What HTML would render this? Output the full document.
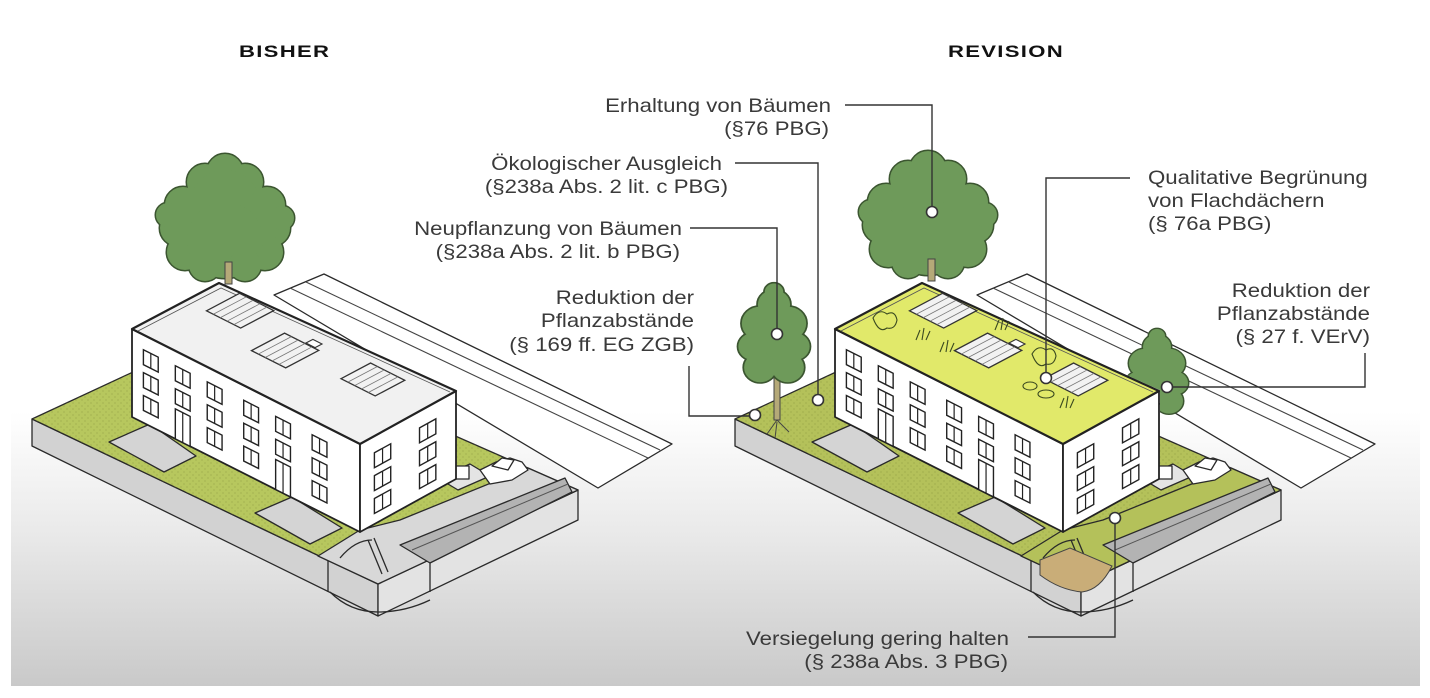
<!DOCTYPE html>
<html><head><meta charset="utf-8">
<style>
html,body{margin:0;padding:0;background:#fff;}
svg{display:block;}
text{font-family:"Liberation Sans",Arial,sans-serif;fill:#3a3a3a;}
.t{font-size:19px;}
.h{font-size:17px;font-weight:bold;fill:#111;letter-spacing:1px;}
.ln{fill:none;stroke:#333;stroke-width:1.4;}
.dot{fill:#fff;stroke:#333;stroke-width:1.6;}
.k{stroke:#2a2a2a;stroke-width:1.3;stroke-linejoin:round;}
</style></head>
<body>
<svg width="1430" height="698" viewBox="0 0 1430 698" xmlns="http://www.w3.org/2000/svg">
<defs>
<linearGradient id="bg" x1="0" y1="0" x2="0" y2="1">
<stop offset="0" stop-color="#fff"/>
<stop offset="0.6" stop-color="#fff"/>
<stop offset="0.78" stop-color="#e9e9e9"/>
<stop offset="1" stop-color="#c9c9c9"/>
</linearGradient>
<clipPath id="rtclip"><polygon points="1100,300 1230,300 1230,480 1160,480 1160,390 1100,363"/></clipPath>
<pattern id="stip" width="6" height="6" patternUnits="userSpaceOnUse">
<circle cx="1" cy="1" r="0.6" fill="#7d8a36" opacity="0.6"/><circle cx="4" cy="4" r="0.6" fill="#7d8a36" opacity="0.6"/>
</pattern>
<g id="win">
<rect x="0" y="0" width="1" height="1" fill="#fff" stroke="#222" stroke-width="1.4" vector-effect="non-scaling-stroke"/>
<line x1="0.5" y1="0" x2="0.5" y2="1" stroke="#222" stroke-width="1.2" vector-effect="non-scaling-stroke"/>
</g>
<g id="scene">
  <polygon points="274,295 324,274 672,444 598,488" fill="#fff" class="k"/>
  <line x1="290" y1="288" x2="648" y2="458" stroke="#444" stroke-width="1.1"/>
  <line x1="306" y1="282" x2="660" y2="450" stroke="#444" stroke-width="1.1"/>
  <polygon points="32,419 378,584 378,616 32,446" style="fill:#d2d2d2" class="k"/>
  <polygon points="378,584 578,490 578,520 378,616" style="fill:#e3e3e3" class="k"/>
  <line x1="328" y1="560" x2="328" y2="592" class="k"/>
  <line x1="430" y1="560" x2="430" y2="592" class="k"/>
  <path d="M330,592 Q350,612 378,612 Q405,612 430,600" fill="none" class="k"/>
  <polygon points="32,419 219,332 578,490 378,584" style="fill:var(--lawn)" class="k"/>
  <polygon points="32,419 219,332 578,490 378,584" fill="url(#stip)"/>
  <polygon points="318,556 378,584 578,490 528,468 400,520 360,530" style="fill:var(--paved)" class="k"/>
  <polygon points="109,442 150,424 196,456 164,472" fill="#d4d4d4" class="k"/>
  <polygon points="255,513 292,497 342,528 310,544" fill="#d4d4d4" class="k"/>
  <polygon points="400,545 565,478 572,492 430,563" fill="#b3b3b3" class="k"/>
  <line x1="412" y1="550" x2="568" y2="484" stroke="#555" stroke-width="1"/>
  <polygon points="438,478 470,464 490,476 458,490" fill="#e4e4e4" class="k"/>
  <rect x="455" y="466" width="14" height="13" fill="#fff" class="k"/>
  <path d="M480,470 L496,462 L510,458 L522,462 L528,470 L512,480 L490,484 Z" fill="#fff" class="k"/>
  <path d="M492,466 L502,458 L514,460 L508,470 Z" fill="#fff" class="k"/>
  <line x1="368" y1="540" x2="382" y2="574" class="k"/>
  <line x1="374" y1="538" x2="388" y2="572" class="k"/>
  <path d="M340,558 Q355,540 372,540" fill="none" class="k"/>
  <polygon points="132,329 360,444 360,532 132,417" fill="#fff" stroke="#222" stroke-width="1.8" stroke-linejoin="round"/>
  <polygon points="360,444 456,391 456,479 360,532" fill="#fff" stroke="#222" stroke-width="1.8" stroke-linejoin="round"/>
  <polygon points="132,329 219,283 456,391 360,444" style="fill:var(--roof)" stroke="#222" stroke-width="2.2" stroke-linejoin="round"/>
  <polyline points="138,331 221,288 450,392" fill="none" stroke="#555" stroke-width="0.8"/>
  <g transform="matrix(228,115,0,88,132,329)">
    <use href="#win" transform="translate(0.05,0.17) scale(0.065,0.17)"/>
    <use href="#win" transform="translate(0.19,0.17) scale(0.065,0.17)"/>
    <use href="#win" transform="translate(0.33,0.17) scale(0.065,0.17)"/>
    <use href="#win" transform="translate(0.49,0.17) scale(0.065,0.17)"/>
    <use href="#win" transform="translate(0.63,0.17) scale(0.065,0.17)"/>
    <use href="#win" transform="translate(0.79,0.17) scale(0.065,0.17)"/>
    <use href="#win" transform="translate(0.05,0.43) scale(0.065,0.17)"/>
    <use href="#win" transform="translate(0.19,0.43) scale(0.065,0.17)"/>
    <use href="#win" transform="translate(0.33,0.43) scale(0.065,0.17)"/>
    <use href="#win" transform="translate(0.49,0.43) scale(0.065,0.17)"/>
    <use href="#win" transform="translate(0.63,0.43) scale(0.065,0.17)"/>
    <use href="#win" transform="translate(0.79,0.43) scale(0.065,0.17)"/>
    <use href="#win" transform="translate(0.05,0.69) scale(0.065,0.17)"/>
    <use href="#win" transform="translate(0.19,0.66) scale(0.065,0.34)"/>
    <use href="#win" transform="translate(0.33,0.69) scale(0.065,0.17)"/>
    <use href="#win" transform="translate(0.49,0.69) scale(0.065,0.17)"/>
    <use href="#win" transform="translate(0.63,0.66) scale(0.065,0.34)"/>
    <use href="#win" transform="translate(0.79,0.69) scale(0.065,0.17)"/>
  </g>
  <g transform="matrix(96,-53,0,88,360,444)">
    <use href="#win" transform="translate(0.15,0.19) scale(0.17,0.17)"/>
    <use href="#win" transform="translate(0.62,0.19) scale(0.17,0.17)"/>
    <use href="#win" transform="translate(0.15,0.45) scale(0.17,0.17)"/>
    <use href="#win" transform="translate(0.62,0.45) scale(0.17,0.17)"/>
    <use href="#win" transform="translate(0.15,0.71) scale(0.17,0.17)"/>
    <use href="#win" transform="translate(0.62,0.71) scale(0.17,0.17)"/>
  </g>
  <g transform="matrix(228,115,87,-46,132,329)">
    <rect x="0.09" y="0.62" width="0.15" height="0.38" fill="#f2f2f2" stroke="#333" stroke-width="1.3" vector-effect="non-scaling-stroke"/>
    <rect x="0.36" y="0.43" width="0.15" height="0.38" fill="#f2f2f2" stroke="#333" stroke-width="1.3" vector-effect="non-scaling-stroke"/>
    <rect x="0.68" y="0.62" width="0.15" height="0.34" fill="#f2f2f2" stroke="#333" stroke-width="1.3" vector-effect="non-scaling-stroke"/>
    <rect x="0.45" y="0.82" width="0.04" height="0.08" fill="#fff" stroke="#333" stroke-width="1.1" vector-effect="non-scaling-stroke"/>
    <g stroke="#777" stroke-width="0.8">
      <line x1="0.12" y1="0.62" x2="0.12" y2="1" vector-effect="non-scaling-stroke"/><line x1="0.15" y1="0.62" x2="0.15" y2="1" vector-effect="non-scaling-stroke"/><line x1="0.18" y1="0.62" x2="0.18" y2="1" vector-effect="non-scaling-stroke"/><line x1="0.21" y1="0.62" x2="0.21" y2="1" vector-effect="non-scaling-stroke"/>
      <line x1="0.39" y1="0.43" x2="0.39" y2="0.81" vector-effect="non-scaling-stroke"/><line x1="0.42" y1="0.43" x2="0.42" y2="0.81" vector-effect="non-scaling-stroke"/><line x1="0.45" y1="0.43" x2="0.45" y2="0.81" vector-effect="non-scaling-stroke"/><line x1="0.48" y1="0.43" x2="0.48" y2="0.81" vector-effect="non-scaling-stroke"/>
      <line x1="0.71" y1="0.62" x2="0.71" y2="0.96" vector-effect="non-scaling-stroke"/><line x1="0.74" y1="0.62" x2="0.74" y2="0.96" vector-effect="non-scaling-stroke"/><line x1="0.77" y1="0.62" x2="0.77" y2="0.96" vector-effect="non-scaling-stroke"/><line x1="0.80" y1="0.62" x2="0.80" y2="0.96" vector-effect="non-scaling-stroke"/>
    </g>
  </g>
</g>
<g id="canopy">
  <circle cx="225" cy="172" r="18"/><circle cx="205" cy="182" r="18"/><circle cx="245" cy="182" r="18"/>
  <circle cx="225" cy="205" r="35"/><circle cx="183" cy="205" r="18"/><circle cx="267" cy="205" r="18"/>
  <circle cx="178" cy="228" r="18"/><circle cx="272" cy="228" r="18"/><circle cx="185" cy="252" r="18"/><circle cx="265" cy="252" r="18"/>
  <circle cx="225" cy="240" r="38"/><circle cx="205" cy="265" r="16"/><circle cx="245" cy="265" r="16"/>
  <circle cx="168" cy="215" r="12"/><circle cx="282" cy="218" r="12"/>
</g>
<g id="treeBig">
  <use href="#canopy" fill="#6e9a5a" stroke="#3b5530" stroke-width="3"/>
  <use href="#canopy" fill="#6e9a5a"/>
  <rect x="225" y="262" width="7" height="22" fill="#b5a978" stroke="#444" stroke-width="1"/>
</g>
<g id="smallc">
  <circle cx="0" cy="-30" r="14"/><circle cx="-12" cy="-12" r="16"/><circle cx="12" cy="-12" r="16"/>
  <circle cx="0" cy="5" r="22"/><circle cx="-18" cy="10" r="13"/><circle cx="18" cy="10" r="13"/>
  <circle cx="-12" cy="30" r="14"/><circle cx="12" cy="30" r="14"/><circle cx="0" cy="-42" r="8"/>
</g>
</defs>

<rect x="11" y="0" width="1409" height="686" fill="url(#bg)"/>

<text class="h" transform="matrix(1.3,0,0,1,239,57)">BISHER</text>
<text class="h" transform="matrix(1.3,0,0,1,948,57)">REVISION</text>

<use href="#treeBig"/>
<use href="#scene" style="--lawn:#b7c75e;--paved:#d8d8d8;--roof:#f1f1f1"/>

<use href="#treeBig" transform="translate(703,-3)"/>
<use href="#scene" transform="translate(703,0)" style="--lawn:#b4c15a;--paved:#b4c15a;--roof:#e1e96a"/>
<g clip-path="url(#rtclip)">
  <g transform="translate(1157,374) scale(1,0.9)">
    <use href="#smallc" fill="#6e9a5a" stroke="#3b5530" stroke-width="3"/>
    <use href="#smallc" fill="#6e9a5a"/>
  </g>
</g>
<path d="M1040,560 L1070,548 L1112,566 Q1100,590 1082,592 Q1060,590 1040,575 Z" fill="#c9ad78" stroke="#444" stroke-width="1"/>
<rect x="774" y="365" width="6" height="55" fill="#b5a978" stroke="#444" stroke-width="1"/>
<g transform="translate(774,336) scale(1.15,1.05)">
  <use href="#smallc" fill="#6e9a5a" stroke="#3b5530" stroke-width="3"/>
  <use href="#smallc" fill="#6e9a5a"/>
</g>
<path d="M777,420 l-10,14 M777,420 l12,12 M777,422 l-2,16" stroke="#444" stroke-width="1" fill="none"/>
<g fill="none" stroke="#3b4a20" stroke-width="1.1">
  <path d="M873,318 q6,-10 14,-4 q8,-4 10,6 q-2,10 -10,8 q-8,6 -14,-10z"/>
  <path d="M1032,354 q6,-10 14,-4 q8,-4 10,6 q-2,10 -10,8 q-8,6 -14,-10z"/>
  <ellipse cx="1030" cy="386" rx="7" ry="4"/><ellipse cx="1046" cy="394" rx="8" ry="4"/>
  <path d="M916,340 l4,-10 m2,10 l2,-12 m2,12 l4,-9"/>
  <path d="M940,352 l4,-10 m2,10 l2,-12 m2,12 l4,-9"/>
  <path d="M995,330 l4,-10 m2,10 l2,-12 m2,12 l4,-9"/>
  <path d="M1060,408 l4,-10 m2,10 l2,-12 m2,12 l4,-9"/>
</g>

<polyline class="ln" points="845,105 932,105 932,212"/>
<polyline class="ln" points="735,163 818,163 818,400"/>
<polyline class="ln" points="690,228 777,228 777,334"/>
<polyline class="ln" points="689,366 689,416 755,416"/>
<polyline class="ln" points="1130,178 1046,178 1046,378"/>
<polyline class="ln" points="1167,387 1365,387 1365,353"/>
<polyline class="ln" points="1028,637 1115,637 1115,518"/>
<circle class="dot" cx="932" cy="212" r="5.5"/>
<circle class="dot" cx="818" cy="400" r="5.5"/>
<circle class="dot" cx="777" cy="334" r="5.5"/>
<circle class="dot" cx="755" cy="415" r="5.5"/>
<circle class="dot" cx="1046" cy="378" r="5.5"/>
<circle class="dot" cx="1167" cy="387" r="5.5"/>
<circle class="dot" cx="1115" cy="518" r="5.5"/>

<g class="t" text-anchor="end">
<text transform="matrix(1.17,0,0,1,831,112)">Erhaltung von Bäumen</text>
<text transform="matrix(1.17,0,0,1,829,135)">(§76 PBG)</text>
<text transform="matrix(1.17,0,0,1,722,170)">Ökologischer Ausgleich</text>
<text transform="matrix(1.17,0,0,1,728,193)">(§238a Abs. 2 lit. c PBG)</text>
<text transform="matrix(1.17,0,0,1,682,235)">Neupflanzung von Bäumen</text>
<text transform="matrix(1.17,0,0,1,680,258)">(§238a Abs. 2 lit. b PBG)</text>
<text transform="matrix(1.17,0,0,1,694,304)">Reduktion der</text>
<text transform="matrix(1.17,0,0,1,694,327)">Pflanzabstände</text>
<text transform="matrix(1.17,0,0,1,694,351)">(§ 169 ff. EG ZGB)</text>
<text transform="matrix(1.17,0,0,1,1370,297)">Reduktion der</text>
<text transform="matrix(1.17,0,0,1,1370,320)">Pflanzabstände</text>
<text transform="matrix(1.17,0,0,1,1370,343)">(§ 27 f. VErV)</text>
<text transform="matrix(1.17,0,0,1,1009,645)">Versiegelung gering halten</text>
<text transform="matrix(1.17,0,0,1,1008,668)">(§ 238a Abs. 3 PBG)</text>
</g>
<g class="t">
<text transform="matrix(1.17,0,0,1,1148,184)">Qualitative Begrünung</text>
<text transform="matrix(1.17,0,0,1,1148,207)">von Flachdächern</text>
<text transform="matrix(1.17,0,0,1,1148,230)">(§ 76a PBG)</text>
</g>
</svg>
</body></html>
